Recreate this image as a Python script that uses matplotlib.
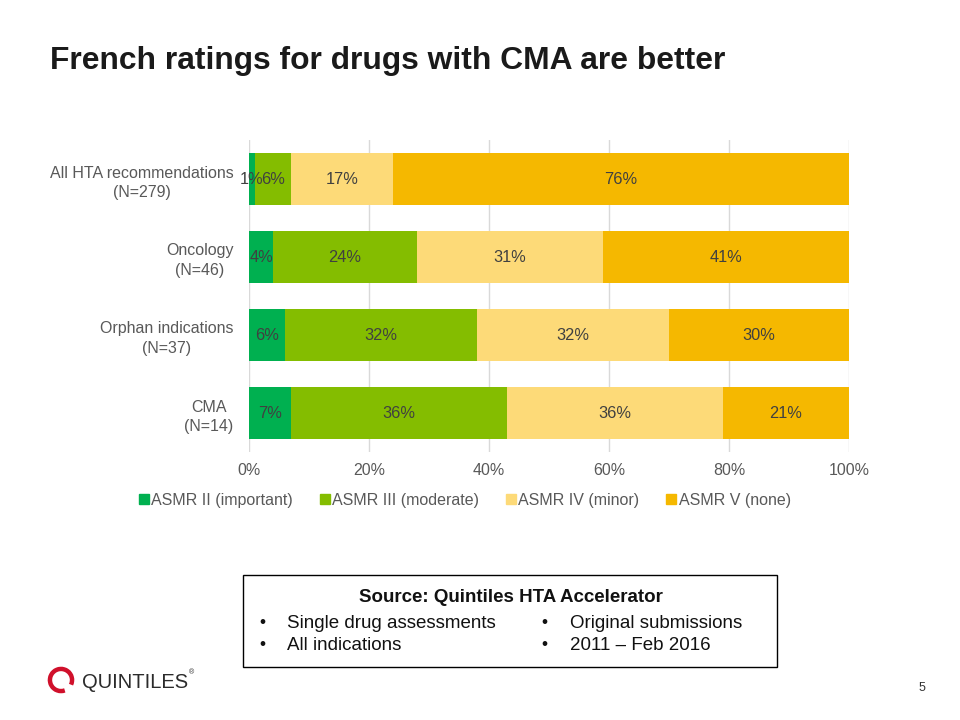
import matplotlib
matplotlib.use("Agg")
import matplotlib.pyplot as plt
from matplotlib.patches import Rectangle, Arc
from matplotlib.lines import Line2D
import numpy as np

categories = ["All HTA recommendations\n(N=279)", "Oncology\n(N=46)",
              "Orphan indications\n(N=37)", "CMA\n(N=14)"]
series_names = ["ASMR II (important)", "ASMR III (moderate)",
                "ASMR IV (minor)", "ASMR V (none)"]
asmr2 = [1, 4, 6, 7]
asmr3 = [6, 24, 32, 36]
asmr4 = [17, 31, 32, 36]
asmr5 = [76, 41, 30, 21]
xticks = [0, 20, 40, 60, 80, 100]
xtick_labels = ["0%", "20%", "40%", "60%", "80%", "100%"]

colors = ["#00B050", "#84BD00", "#FDDA78", "#F5B800"]
plt.rcParams['font.family'] = ['Liberation Sans', 'DejaVu Sans']

fig = plt.figure(figsize=(9.6, 7.2), dpi=100)
W, H = 960, 720
ax = fig.add_axes([249 / W, 1 - 452 / H, 600 / W, 312 / H])

ypos = np.arange(len(categories))
left = np.zeros(len(categories))
for vals, col in zip([asmr2, asmr3, asmr4, asmr5], colors):
    vals = np.array(vals, dtype=float)
    ax.barh(ypos, vals, left=left, height=0.667, color=col, zorder=2)
    for y, l, v in zip(ypos, left, vals):
        ax.text(l + v / 2, y, f"{int(v)}%", ha="center", va="center",
                fontsize=11.8, color="#404040", zorder=3)
    left += vals

ax.set_xlim(0, 100)
ax.set_ylim(len(categories) - 0.5, -0.5)
ax.set_xticks(xticks)
ax.set_xticklabels(xtick_labels, fontsize=11.5, color="#595959")
ax.set_yticks(ypos)
ax.set_yticklabels(categories, fontsize=11.5, color="#595959",
                   multialignment="center", linespacing=1.35)
ax.tick_params(length=0, pad=8)
ax.tick_params(axis="y", pad=11)
ax.grid(axis="x", color="#D9D9D9", linewidth=1, zorder=0)
for s in ax.spines.values():
    s.set_visible(False)

handles = [Line2D([], [], marker="s", linestyle="none", markersize=6.5,
                  markerfacecolor=c, markeredgecolor=c) for c in colors]
fig.legend(handles, series_names, loc="center", ncol=4,
           bbox_to_anchor=(465 / W, 1 - 500 / H), frameon=False,
           fontsize=11.5, labelcolor="#595959", handlelength=0.6,
           handletextpad=0.15, columnspacing=1.7)

fig.text(50 / W, 1 - 61 / H, "French ratings for drugs with CMA are better",
         fontsize=22.9, fontweight="bold", color="#1A1A1A", va="center",
         ha="left")

# Source box
fig.patches.append(Rectangle((243 / W, 1 - 667 / H), 534 / W, 92 / H,
                             transform=fig.transFigure, fill=False,
                             edgecolor="black", linewidth=1))
fig.text(511 / W, 1 - 597 / H, "Source: Quintiles HTA Accelerator",
         fontsize=13.5, fontweight="bold", ha="center", va="center",
         color="#111111")
for bx, tx, lines in [(262, 287, ["Single drug assessments", "All indications"]),
                      (544, 570, ["Original submissions", "2011 \u2013 Feb 2016"])]:
    for i, t in enumerate(lines):
        y = 1 - (623 + 22 * i) / H
        fig.text(bx / W, y, "\u2022", fontsize=12.5, ha="center", va="center",
                 color="#111111")
        fig.text(tx / W, y, t, fontsize=13.5, ha="left", va="center",
                 color="#111111")

# Logo
logo_ax = fig.add_axes([44 / W, 1 - 697 / H, 34 / W, 34 / H])
logo_ax.set_xlim(-1, 1)
logo_ax.set_ylim(-1, 1)
logo_ax.set_aspect("equal")
logo_ax.axis("off")
logo_ax.add_patch(Arc((0, 0), 1.3, 1.3, theta1=-25, theta2=290,
                      color="#D0102B", linewidth=3.2))
fig.text(82 / W, 1 - 682 / H, "QUINTILES", fontsize=14.5, fontweight="normal",
         color="#2B2B2B", ha="left", va="center")
fig.text(189 / W, 1 - 673 / H, "\u00ae", fontsize=5, color="#2B2B2B",
         ha="left", va="center")

fig.text(922 / W, 1 - 688 / H, "5", fontsize=9, color="#333333",
         ha="center", va="center")

fig.savefig("out.png", dpi=100)
